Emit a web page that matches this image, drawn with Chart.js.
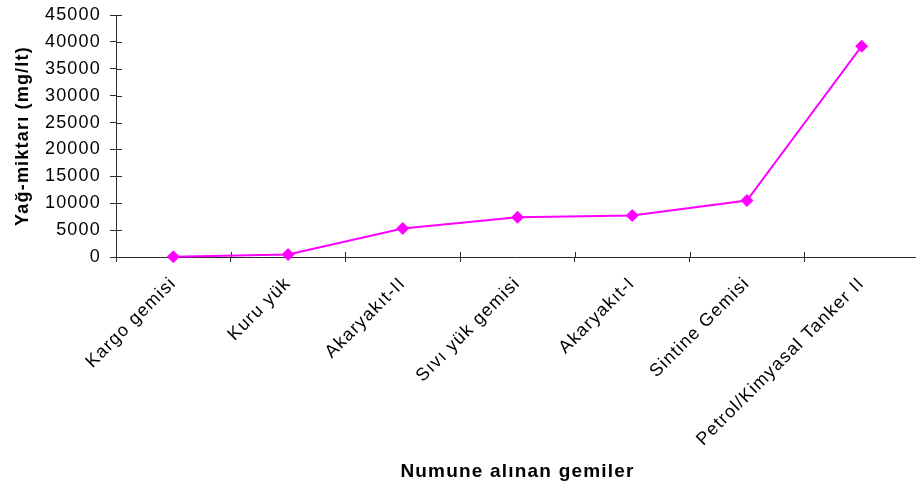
<!DOCTYPE html>
<html>
<head>
<meta charset="utf-8">
<script src="https://cdn.jsdelivr.net/npm/chart.js@4/dist/chart.umd.min.js"></script>
<style>
  html, body { margin: 0; padding: 0; background: #fff; overflow: hidden; }
  #wrap { width: 916px; height: 489px; position: relative; }
</style>
</head>
<body>
<div id="wrap"><canvas id="c"></canvas></div>
<script>
// Ship types sampled and measured oil content (mg/lt)
const categories = [
  'Kargo gemisi',
  'Kuru yük',
  'Akaryakıt-II',
  'Sıvı yük gemisi',
  'Akaryakıt-I',
  'Sintine Gemisi',
  'Petrol/Kimyasal Tanker II'
];
const oilAmounts = [30, 450, 5300, 7400, 7700, 10500, 39200];
const yTickValues = [0, 5000, 10000, 15000, 20000, 25000, 30000, 35000, 40000, 45000];

const yTitle = 'Yağ-miktarı (mg/lt)';
const xTitle = 'Numune alınan gemiler';

const FONT = "'Liberation Sans', Arial, Helvetica, sans-serif";
const AXIS = '#2b2b2b';
const LINE = '#ff00ff';
const SPACING = '1.2px';
const PLOT_RIGHT_OVERHANG = 3; // category axis runs slightly past the canvas edge

// Slightly widened text, applied to the shared drawing context
const textSpacing = {
  id: 'textSpacing',
  beforeUpdate(chart) { chart.ctx.letterSpacing = SPACING; },
  beforeLayout(chart) { chart.ctx.letterSpacing = SPACING; },
  beforeDraw(chart) { chart.ctx.letterSpacing = SPACING; }
};

// Let the category axis extend a little beyond the right edge
const axisOverhang = {
  id: 'axisOverhang',
  afterLayout(chart) {
    const x = chart.scales.x;
    const right = chart.width + PLOT_RIGHT_OVERHANG;
    x.right = right;
    x.width = right - x.left;
    x.configure();
    chart.chartArea.right = right;
    chart.chartArea.width = right - chart.chartArea.left;
  }
};

// Tick marks that cross the axis lines (the library only draws the outer half)
const innerTicks = {
  id: 'innerTicks',
  beforeDatasetsDraw(chart) {
    const { ctx } = chart;
    const x = chart.scales.x, y = chart.scales.y;
    ctx.save();
    ctx.strokeStyle = AXIS;
    ctx.lineWidth = 1;
    ctx.beginPath();
    y.ticks.forEach(t => {
      const py = Math.round(y.getPixelForValue(t.value)) + 0.5;
      ctx.moveTo(y.right, py);
      ctx.lineTo(y.right + 6, py);
    });
    for (let i = 1; i <= categories.length; i++) {
      const px = Math.round(x.getPixelForValue(i - 0.5)) + 0.5;
      ctx.moveTo(px, x.top);
      ctx.lineTo(px, x.top - 5);
    }
    ctx.stroke();
    ctx.restore();
  }
};

new Chart(document.getElementById('c'), {
  type: 'line',
  data: {
    labels: categories,
    datasets: [{
      data: oilAmounts,
      borderColor: LINE,
      backgroundColor: LINE,
      borderWidth: 2,
      tension: 0,
      clip: false,
      pointStyle: 'rectRot',
      pointRadius: 6,
      pointBorderWidth: 1,
      pointBackgroundColor: LINE,
      pointBorderColor: LINE
    }]
  },
  options: {
    responsive: true,
    maintainAspectRatio: false,
    animation: false,
    layout: { autoPadding: false, padding: { top: 15, right: 0, left: 0, bottom: 0 } },
    plugins: {
      legend: { display: false },
      tooltip: { enabled: false }
    },
    scales: {
      x: {
        type: 'category',
        offset: true,
        grid: { drawOnChartArea: false, offset: true, tickLength: 5, color: AXIS, lineWidth: 1 },
        border: { color: AXIS, width: 1 },
        ticks: {
          color: '#000',
          font: { family: FONT, size: 18 },
          maxRotation: 45,
          minRotation: 45,
          autoSkip: false,
          padding: 11
        },
        title: {
          display: true,
          text: xTitle,
          color: '#000',
          font: { family: FONT, size: 19, weight: 'bold' },
          padding: { top: 6, bottom: 6 }
        },
        afterFit(scale) {
          scale.height = 232;
          scale.paddingLeft = 0;
          scale.paddingRight = 0;
        }
      },
      y: {
        min: 0,
        max: 45000,
        grid: { drawOnChartArea: false, tickLength: 6, color: AXIS, lineWidth: 1 },
        border: { color: AXIS, width: 1 },
        afterBuildTicks(scale) { scale.ticks = yTickValues.map(v => ({ value: v })); },
        ticks: {
          color: '#000',
          font: { family: FONT, size: 18 },
          padding: 9,
          callback: v => String(v)
        },
        title: {
          display: true,
          text: yTitle,
          color: '#000',
          font: { family: FONT, size: 18, weight: 'bold' },
          padding: { top: 12, bottom: 12 }
        },
        afterFit(scale) {
          scale.width = 116;
          scale.paddingTop = 0;
          scale.paddingBottom = 0;
        }
      }
    }
  },
  plugins: [textSpacing, axisOverhang, innerTicks]
});
</script>
</body>
</html>
